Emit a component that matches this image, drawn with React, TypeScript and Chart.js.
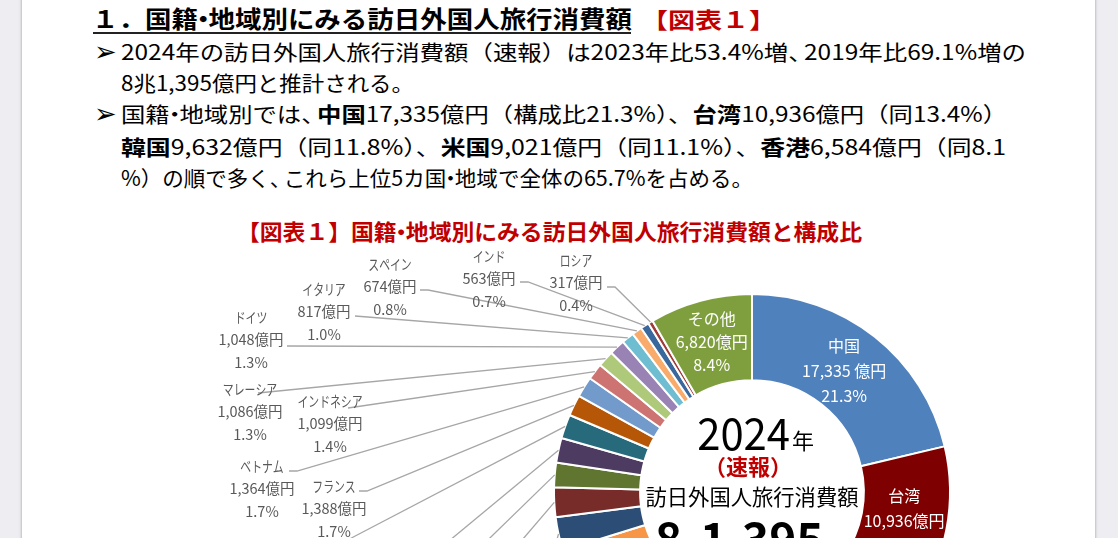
import React, { useEffect, useLayoutEffect, useRef } from "react";
import { Chart, registerables } from "chart.js";

Chart.register(...registerables);

// ---- data ----
const categories = [
  "中国", "台湾", "韓国", "米国", "香港", "豪州", "タイ", "シンガポール", "英国", "カナダ",
  "フィリピン", "フランス", "ベトナム", "インドネシア", "マレーシア", "ドイツ", "イタリア", "スペイン", "インド", "ロシア", "その他",
];
const values = [
  17335, 10936, 9632, 9021, 6584, 3651, 2230, 1960, 1640, 1630,
  1600, 1388, 1364, 1099, 1086, 1048, 817, 674, 563, 317, 6820,
];
const sliceColors = [
  "#4F81BD", "#7F0000", "#9BBB59", "#8064A2", "#4BACC6", "#F79646", "#2C4D75", "#772C2A", "#5F7530", "#4D3B62",
  "#276A7C", "#B65708", "#729ACA", "#CD7371", "#AFC97A", "#9983B5", "#6FBDD1", "#F9AB6B", "#3A679C", "#9F3B38", "#7F9F3F",
];
const insideIdx = [0, 1, 2, 3, 4, 20];
const yearText = "2024";
const totalMain = ["8", "1,395"];

// label layout for outside labels: [index, centerX, firstLineY, startX, startY, elbowX|null]
const outsideLayout: [number, number, number, number, number, number | null][] = [
  [5, 520, 620, 545, 610, null],
  [6, 500, 620, 540, 600, null],
  [7, 470, 580, 505, 560, null],
  [8, 430, 590, 457, 570, null],
  [9, 400, 580, 426, 560, null],
  [10, 310, 565, 338, 545, null],
  [11, 334, 486, 359, 491, 367],
  [12, 262, 466, 289, 471, 297],
  [13, 330, 401, 348, 408, null],
  [14, 250, 389, 258, 393, null],
  [15, 251, 317, 287, 346, null],
  [16, 324, 289, 355, 316, null],
  [17, 390, 264, 420, 290, 428],
  [18, 489, 256, 520, 282, 528],
  [19, 576, 260, 607, 287, 615],
];

const FONT = '"Noto Sans CJK JP", "Noto Sans", sans-serif';
const total = values.reduce((a, b) => a + b, 0);
const fmt = (v: number) => v.toLocaleString("en-US");
const pct = (v: number) => ((v / total) * 100).toFixed(1) + "%";
const isKana = (s: string) => /^[\u30A0-\u30FF]+$/.test(s);

function drawScaled(ctx: CanvasRenderingContext2D, text: string, x: number, y: number, k: number) {
  ctx.save();
  ctx.translate(x, y);
  ctx.scale(k, 1);
  ctx.fillText(text, 0, 0);
  ctx.restore();
}

const labelPlugin = {
  id: "customLabels",
  afterDatasetsDraw(chart: any) {
    const ctx: CanvasRenderingContext2D = chart.ctx;
    const arcs = chart.getDatasetMeta(0).data;
    ctx.save();
    // leader lines + outside labels
    for (const [i, cx, y1, sx, sy, ex] of outsideLayout) {
      const a: any = arcs[i];
      const mid = (a.startAngle + a.endAngle) / 2;
      const px = a.x + Math.cos(mid) * a.outerRadius;
      const py = a.y + Math.sin(mid) * a.outerRadius;
      ctx.strokeStyle = "#A6A6A6";
      ctx.lineWidth = 1.3;
      ctx.beginPath();
      ctx.moveTo(sx, sy);
      if (ex !== null) ctx.lineTo(ex, sy);
      ctx.lineTo(px, py);
      ctx.stroke();
      ctx.fillStyle = "#595959";
      ctx.font = `14.5px ${FONT}`;
      ctx.textAlign = "center";
      ctx.textBaseline = "middle";
      drawScaled(ctx, categories[i], cx, y1, isKana(categories[i]) ? 0.75 : 1);
      ctx.fillText(fmt(values[i]) + "億円", cx, y1 + 22.5);
      ctx.fillText(pct(values[i]), cx, y1 + 45);
    }
    // inside labels
    for (const i of insideIdx) {
      const a: any = arcs[i];
      const mid = (a.startAngle + a.endAngle) / 2;
      const r = (a.innerRadius + a.outerRadius) / 2;
      const x = a.x + Math.cos(mid) * r - (i === 0 ? 4 : 0);
      const y = a.y + Math.sin(mid) * r;
      const gap = i === 20 ? 23 : 25;
      ctx.fillStyle = "#FFFFFF";
      ctx.font = `16px ${FONT}`;
      ctx.textAlign = "center";
      ctx.textBaseline = "middle";
      ctx.fillText(categories[i], x, y - gap);
      ctx.fillText(fmt(values[i]) + (i === 0 ? " 億円" : "億円"), x, y);
      ctx.fillText(pct(values[i]), x, y + gap);
    }
    // center text
    const c: any = arcs[0];
    const cx = c.x;
    const cy = c.y;
    ctx.fillStyle = "#000";
    ctx.textBaseline = "alphabetic";
    ctx.textAlign = "right";
    ctx.font = `44px ${FONT}`;
    drawScaled(ctx, yearText, cx + 38, cy - 42, 0.95);
    ctx.textAlign = "left";
    ctx.font = `22px ${FONT}`;
    ctx.fillText("年", cx + 40, cy - 43);
    ctx.textAlign = "center";
    ctx.textBaseline = "middle";
    ctx.fillStyle = "#C00000";
    ctx.font = `bold 22px ${FONT}`;
    ctx.fillText("（速報）", cx - 4, cy - 25);
    ctx.fillStyle = "#000";
    ctx.font = `21.3px ${FONT}`;
    ctx.fillText("訪日外国人旅行消費額", cx, cy + 5);
    ctx.textBaseline = "alphabetic";
    ctx.textAlign = "left";
    ctx.font = `bold 46px ${FONT}`;
    ctx.fillText(totalMain[0], cx - 97, cy + 64);
    ctx.fillText(totalMain[1], cx - 52, cy + 64);
    ctx.font = `16px ${FONT}`;
    ctx.fillStyle = "#333";
    ctx.fillText("兆", cx - 68, cy + 64);
    ctx.fillText("億円", cx + 66, cy + 64);
    ctx.restore();
  },
};

function FitLine(props: { left: number; centerY: number; width: number; size: number; children: any; style?: any }) {
  const ref = useRef<HTMLDivElement>(null);
  useLayoutEffect(() => {
    const fit = () => {
      const el = ref.current;
      if (!el) return;
      el.style.transform = "none";
      const w = el.getBoundingClientRect().width;
      if (w > 0) el.style.transform = `scaleX(${props.width / w})`;
    };
    fit();
    (document as any).fonts?.ready?.then(fit);
  }, [props.width]);
  const lh = props.size * 1.4;
  return (
    <div
      ref={ref}
      style={{
        position: "absolute",
        left: props.left,
        top: props.centerY - lh / 2,
        lineHeight: lh + "px",
        fontSize: props.size,
        whiteSpace: "nowrap",
        transformOrigin: "left center",
        fontFamily: FONT,
        color: "#000",
        ...props.style,
      }}
    >
      {props.children}
    </div>
  );
}

const B = (p: { children: any }) => <b style={{ fontWeight: 700 }}>{p.children}</b>;
const Dot = () => <span style={{ margin: "0 -0.3em" }}>・</span>;
const Comma = () => <span style={{ marginRight: "-0.35em" }}>、</span>;
const Bullet = (p: { centerY: number }) => (
  <div
    style={{
      position: "absolute",
      left: 94,
      top: p.centerY - 16,
      fontSize: 27,
      lineHeight: "32px",
      height: 32,
      fontFamily: '"DejaVu Sans", sans-serif',
      color: "#000",
    }}
  >
    ➢
  </div>
);

export default function App() {
  const canvasRef = useRef<HTMLCanvasElement>(null);
  useEffect(() => {
    const canvas = canvasRef.current;
    if (!canvas) return;
    const chart = new Chart(canvas, {
      type: "doughnut",
      data: {
        labels: categories,
        datasets: [
          {
            data: values,
            backgroundColor: sliceColors,
            borderColor: "#FFFFFF",
            borderWidth: 2,
            hoverOffset: 0,
          },
        ],
      },
      options: {
        responsive: false,
        animation: false,
        events: [],
        cutout: "56.5%",
        layout: { padding: { left: 553, right: 167, top: 293, bottom: 109 } },
        plugins: { legend: { display: false }, tooltip: { enabled: false } },
      } as any,
      plugins: [labelPlugin],
    });
    (document as any).fonts?.ready?.then(() => chart.update());
    return () => chart.destroy();
  }, []);

  return (
    <div style={{ position: "absolute", left: 0, top: 0, width: 1118, height: 538, overflow: "hidden", background: "#EDEDF2" }}>
      <div
        style={{
          position: "absolute",
          left: 22,
          top: -10,
          width: 1073,
          height: 600,
          background: "#FFFFFF",
          boxShadow: "0 0 3px rgba(0,0,0,0.35)",
        }}
      />
      {/* heading */}
      <FitLine left={92} centerY={18} width={540} size={24} style={{ fontWeight: 700 }}>
        １．国籍<Dot />地域別にみる訪日外国人旅行消費額
      </FitLine>
      <div style={{ position: "absolute", left: 93, top: 32, width: 538, height: 2, background: "#222" }} />
      <FitLine left={641} centerY={18} width={135} size={22} style={{ fontWeight: 700, color: "#C00000" }}>
        【図表１】
      </FitLine>
      {/* bullets */}
      <Bullet centerY={52} />
      <FitLine left={121} centerY={52} width={905} size={21}>
        2024年の訪日外国人旅行消費額（速報）は2023年比53.4%増<Comma />2019年比69.1%増の
      </FitLine>
      <FitLine left={121} centerY={83} width={293} size={21}>
        8兆1,395億円と推計される。
      </FitLine>
      <Bullet centerY={114} />
      <FitLine left={121} centerY={114} width={886} size={21}>
        国籍<Dot />地域別では<Comma /><B>中国</B>17,335億円（構成比21.3%）、<B>台湾</B>10,936億円（同13.4%）
      </FitLine>
      <FitLine left={121} centerY={147} width={885} size={21}>
        <B>韓国</B>9,632億円（同11.8%）、<B>米国</B>9,021億円（同11.1%）、<B>香港</B>6,584億円（同8.1
      </FitLine>
      <FitLine left={121} centerY={178} width={632} size={21}>
        %）の順で多く<Comma />これら上位5カ国<Dot />地域で全体の65.7%を占める。
      </FitLine>
      {/* chart title */}
      <FitLine left={237} centerY={230} width={625} size={22} style={{ fontWeight: 700, color: "#C00000" }}>
        【図表１】国籍<Dot />地域別にみる訪日外国人旅行消費額と構成比
      </FitLine>
      <canvas ref={canvasRef} width={1118} height={800} style={{ position: "absolute", left: 0, top: 0 }} />
    </div>
  );
}
